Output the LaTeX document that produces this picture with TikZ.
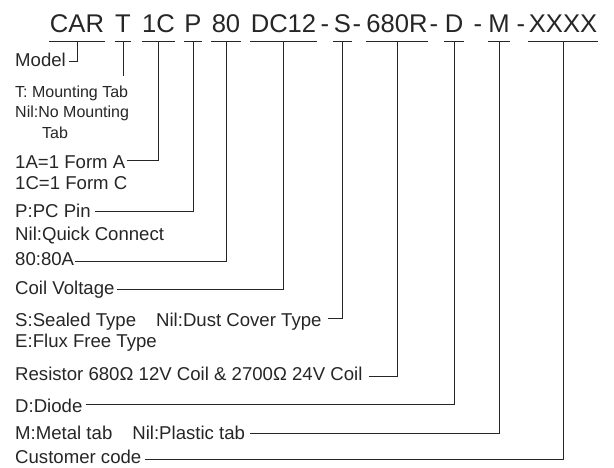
\documentclass[tikz,border=0pt]{standalone}
\usepackage{fontspec}
\setmainfont{Liberation Sans}

\tikzset{
  part/.style={font=\fontsize{25.6}{26}\selectfont, anchor=base, inner xsep=0.3pt,
               inner ysep=0pt, text height=19pt, text depth=9pt, text=black!85},
  lbl/.style={font=\fontsize{18.6}{19}\selectfont, anchor=base west, inner sep=0pt, text=black!85},
  lblsmall/.style={lbl, font=\fontsize{16}{16}\selectfont},
  lead/.style={black!85, line width=0.8pt},
}

\begin{document}
\begin{tikzpicture}[x=1pt,y=-1pt]
  \useasboundingbox (0,0) rectangle (614,467);
  % part number
  \node[part] (car)   at (77,32)    {CAR};
  \node[part] (tab)   at (123,32)   {T};
  \node[part] (form)  at (158.5,32) {1C};
  \node[part] (pin)   at (193,32)   {P};
  \node[part] (amp)   at (226,32)   {80};
  \node[part] (coil)  at (283.5,32) {DC12};
  \node[part] (dasha) at (325,32)   {-};
  \node[part] (seal)  at (342.5,32) {S};
  \node[part] (dashb) at (357,32)   {-};
  \node[part] (res)   at (397,32)   {680R};
  \node[part] (dashc) at (434,32)   {-};
  \node[part] (diode) at (454,32)   {D};
  \node[part] (dashd) at (478,32)   {-};
  \node[part] (tabm)  at (499,32)   {M};
  \node[part] (dashe) at (521,32)   {-};
  \node[part] (cust)  at (563,32)   {XXXX};
  \foreach \n in {car,tab,form,pin,amp,coil,seal,res,diode,tabm,cust}
    \draw[lead] (\n.south west) -- (\n.south east);
  % descriptions
  \node[lbl] (model)       at (15,66)  {Model};
  \node[lblsmall] (tmount) at (15,97)  {T: Mounting Tab};
  \node[lblsmall] (tnil)   at (15,117) {Nil:No Mounting};
  \node[lblsmall] (ttab)   at (42,138) {Tab};
  \node[lbl] (forma)  at (15,168) {1A=1 Form A};
  \node[lbl] (formc)  at (15,189) {1C=1 Form C};
  \node[lbl] (pcpin)  at (15,217) {P:PC Pin};
  \node[lbl] (quick)  at (15,240) {Nil:Quick Connect};
  \node[lbl] (amps)   at (15,265) {80:80A};
  \node[lbl] (volt)   at (15,294) {Coil Voltage};
  \node[lbl] (sealed) at (15,326) {S:Sealed Type\hspace{20pt}Nil:Dust Cover Type};
  \node[lbl] (flux)   at (15,347) {E:Flux Free Type};
  \node[lbl] (resist) at (15,380) {Resistor 680Ω 12V Coil \& 2700Ω 24V Coil};
  \node[lbl] (diod)   at (15,412) {D:Diode};
  \node[lbl] (metal)  at (15,439) {M:Metal tab\hspace{20pt}Nil:Plastic tab};
  \node[lbl] (custc)  at (15,463) {Customer code};
  % leaders
  \draw[lead] ([shift={(3pt,5pt)}]model.base east) -| (car.south);
  \draw[lead] (tab.south) -- ++(0,35);
  \draw[lead] ([shift={(2pt,8pt)}]forma.base east) -| (form.south);
  \draw[lead] ([shift={(4pt,6pt)}]pcpin.base east) -| (pin.south);
  \draw[lead] ([shift={(1pt,4pt)}]amps.base east) -| (amp.south);
  \draw[lead] ([shift={(2pt,5pt)}]volt.base east) -| (coil.south);
  \draw[lead] ([shift={(6pt,8pt)}]sealed.base east) -| (seal.south);
  \draw[lead] ([shift={(6pt,4pt)}]resist.base east) -| (res.south);
  \draw[lead] ([shift={(3pt,8pt)}]diod.base east) -| (diode.south);
  \draw[lead] ([shift={(5pt,6pt)}]metal.base east) -| (tabm.south);
  \draw[lead] ([shift={(3pt,4pt)}]custc.base east) -| (cust.south);
\end{tikzpicture}
\end{document}
